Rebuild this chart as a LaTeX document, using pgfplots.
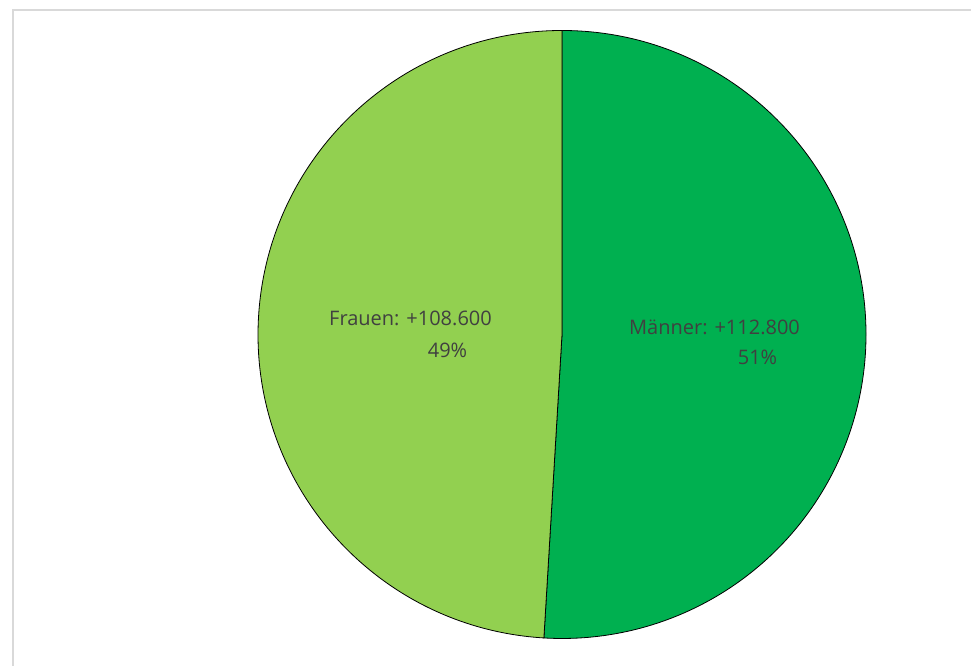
\documentclass[border=0pt]{standalone}
\usepackage{pgfplots}
\pgfplotsset{compat=1.18}
\usepackage{pgfplotstable}
\usepackage{fontspec}
\setmainfont{Open Sans}
\definecolor{maenner}{HTML}{00B050}
\definecolor{frauen}{HTML}{92D050}
\definecolor{lbl}{HTML}{404040}
\definecolor{frame}{HTML}{D9D9D9}
% values in thousands
\pgfplotstableread{
name value
Maenner 112.8
Frauen 108.6
}\piedata
\begin{document}
\begin{tikzpicture}
\pgfplotstablegetelem{0}{value}\of\piedata \let\vm\pgfplotsretval
\pgfplotstablegetelem{1}{value}\of\piedata \let\vf\pgfplotsretval
\pgfmathsetmacro{\fm}{\vm/(\vm+\vf)}
\pgfmathsetmacro{\ff}{\vf/(\vm+\vf)}
\pgfmathsetmacro{\am}{360*\fm}
\pgfmathsetmacro{\af}{360*\ff}
\pgfmathsetmacro{\pcm}{round(100*\fm)}
\pgfmathsetmacro{\pcf}{round(100*\ff)}
\begin{axis}[hide axis, scale only axis, x=1pt, y=1pt, xmin=0, xmax=971, ymin=0, ymax=666, clip=false, anchor=origin, at={(0,0)}]
\path (axis cs:0,0) rectangle (axis cs:971,666);
\begin{scope}
\clip (axis cs:0,0) rectangle (axis cs:971,666);
\draw[frame, line width=2pt] (axis cs:13,-5) -- (axis cs:13,656) -- (axis cs:975,656);
\end{scope}
\filldraw[fill=maenner, draw=black, line width=0.8pt] (axis cs:562,331.5) -- ++(90:304pt) arc[start angle=90, delta angle=-\am, radius=304pt] -- cycle;
\filldraw[fill=frauen, draw=black, line width=0.8pt] (axis cs:562,331.5) -- ++({90-\am}:304pt) arc[start angle={90-\am}, delta angle=-\af, radius=304pt] -- cycle;
\node[lbl, font=\fontsize{20}{24}\selectfont] at (axis cs:714.5,339) {Männer: +112.800};
\node[lbl, font=\fontsize{20}{24}\selectfont] at (axis cs:757.5,309) {\pgfmathprintnumber[precision=0, assume math mode=true]{\pcm}\%};
\node[lbl, font=\fontsize{20}{24}\selectfont] at (axis cs:410.5,348) {Frauen: +108.600};
\node[lbl, font=\fontsize{20}{24}\selectfont] at (axis cs:447.5,316) {\pgfmathprintnumber[precision=0, assume math mode=true]{\pcf}\%};
\end{axis}
\end{tikzpicture}
\end{document}
